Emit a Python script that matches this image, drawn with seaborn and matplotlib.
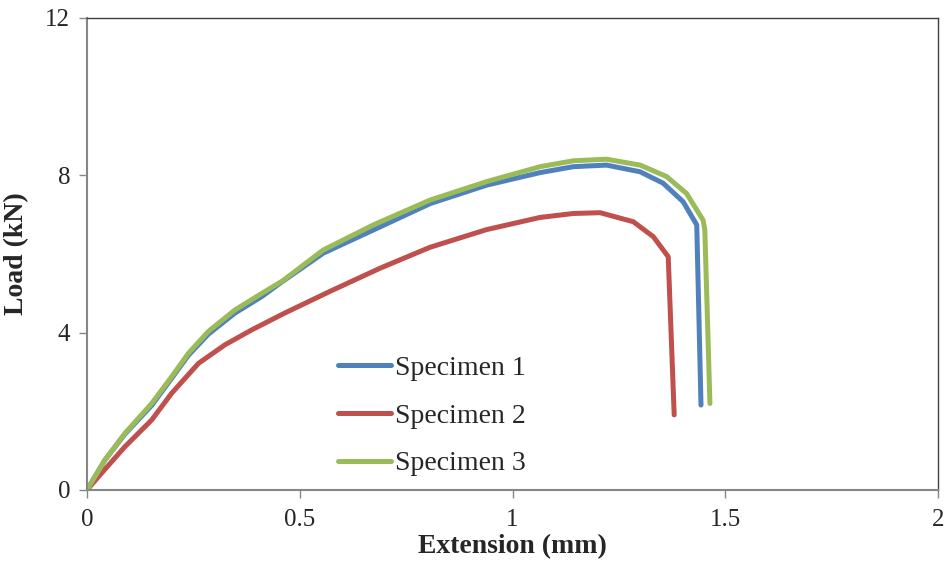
import pandas as pd
import matplotlib
matplotlib.use("Agg")
import matplotlib.pyplot as plt
import seaborn as sns

# values
spec1_ext = [0, 0.042, 0.089, 0.152, 0.199, 0.238, 0.285, 0.348, 0.411, 0.454, 0.555, 0.673, 0.806,
             0.939, 1.065, 1.143, 1.221, 1.300, 1.354, 1.401, 1.433, 1.443]
spec1_load = [0, 0.76, 1.42, 2.15, 2.84, 3.42, 3.96, 4.50, 4.92, 5.26, 6.02, 6.61, 7.28,
              7.75, 8.07, 8.22, 8.26, 8.09, 7.80, 7.33, 6.74, 2.16]

spec2_ext = [0, 0.027, 0.089, 0.152, 0.199, 0.262, 0.324, 0.387, 0.465, 0.571, 0.689, 0.806, 0.939,
             1.065, 1.143, 1.206, 1.284, 1.331, 1.366, 1.380]
spec2_load = [0, 0.34, 1.10, 1.78, 2.46, 3.22, 3.69, 4.07, 4.50, 5.05, 5.64, 6.17, 6.62,
              6.93, 7.03, 7.05, 6.82, 6.44, 5.93, 1.91]

spec3_ext = [0, 0.042, 0.089, 0.152, 0.199, 0.238, 0.285, 0.348, 0.411, 0.460, 0.555, 0.673, 0.806,
             0.939, 1.065, 1.143, 1.221, 1.300, 1.362, 1.409, 1.448, 1.452, 1.464]
spec3_load = [0, 0.76, 1.44, 2.20, 2.88, 3.47, 4.03, 4.58, 5.00, 5.32, 6.10, 6.74, 7.37,
              7.84, 8.22, 8.37, 8.41, 8.26, 7.97, 7.54, 6.86, 6.61, 2.20]

labels = ["Specimen 1", "Specimen 2", "Specimen 3"]
colors = ["#4F81BD", "#C0504D", "#9BBB59"]

x_ticks = [0, 0.5, 1, 1.5, 2]
x_tick_labels = ["0", "0.5", "1", "1.5", "2"]
y_ticks = [0, 4, 8, 12]


def build_frame():
    parts = []
    for lab, xs, ys in zip(labels, [spec1_ext, spec2_ext, spec3_ext], [spec1_load, spec2_load, spec3_load]):
        parts.append(pd.DataFrame({"Extension": xs, "Load": ys, "Specimen": lab}))
    return pd.concat(parts, ignore_index=True)


df = build_frame()

sns.set_style("white")
plt.rcParams["font.family"] = ["Liberation Serif", "DejaVu Serif"]

fig = plt.figure(figsize=(9.46, 5.76), dpi=100)
ax = fig.add_axes([87 / 946, 1 - 490 / 576, (938 - 87) / 946, (490 - 18) / 576])

sns.lineplot(data=df, x="Extension", y="Load", hue="Specimen", hue_order=labels,
             palette=colors, sort=False, estimator=None,
             linewidth=3.6, ax=ax, solid_capstyle="round", solid_joinstyle="round")

ax.set_xlim(0, 2)
ax.set_ylim(0, 12)
ax.set_xticks(x_ticks)
ax.set_xticklabels(x_tick_labels)
ax.set_yticks(y_ticks)
ax.tick_params(axis="both", labelsize=18, length=6, width=1, color="#868686",
               direction="out", bottom=True, left=True)
ax.tick_params(axis="x", pad=8)
ax.tick_params(axis="y", pad=6)

for side in ["left", "bottom"]:
    ax.spines[side].set_color("#868686")
    ax.spines[side].set_linewidth(1.5)
for side in ["top", "right"]:
    ax.spines[side].set_color("#404040")
    ax.spines[side].set_linewidth(1.0)

ax.set_xlabel("Extension (mm)", fontsize=20, fontweight="bold", labelpad=2)
ax.set_ylabel("Load (kN)", fontsize=20, fontweight="bold", labelpad=12)

ax.legend(loc="center left", bbox_to_anchor=(313 / 946, 1 - 416 / 576),
          bbox_transform=fig.transFigure, frameon=False, fontsize=20,
          handlelength=1.9, handletextpad=0.15, labelspacing=0.8, title=None)

fig.savefig("out.png", dpi=100)
